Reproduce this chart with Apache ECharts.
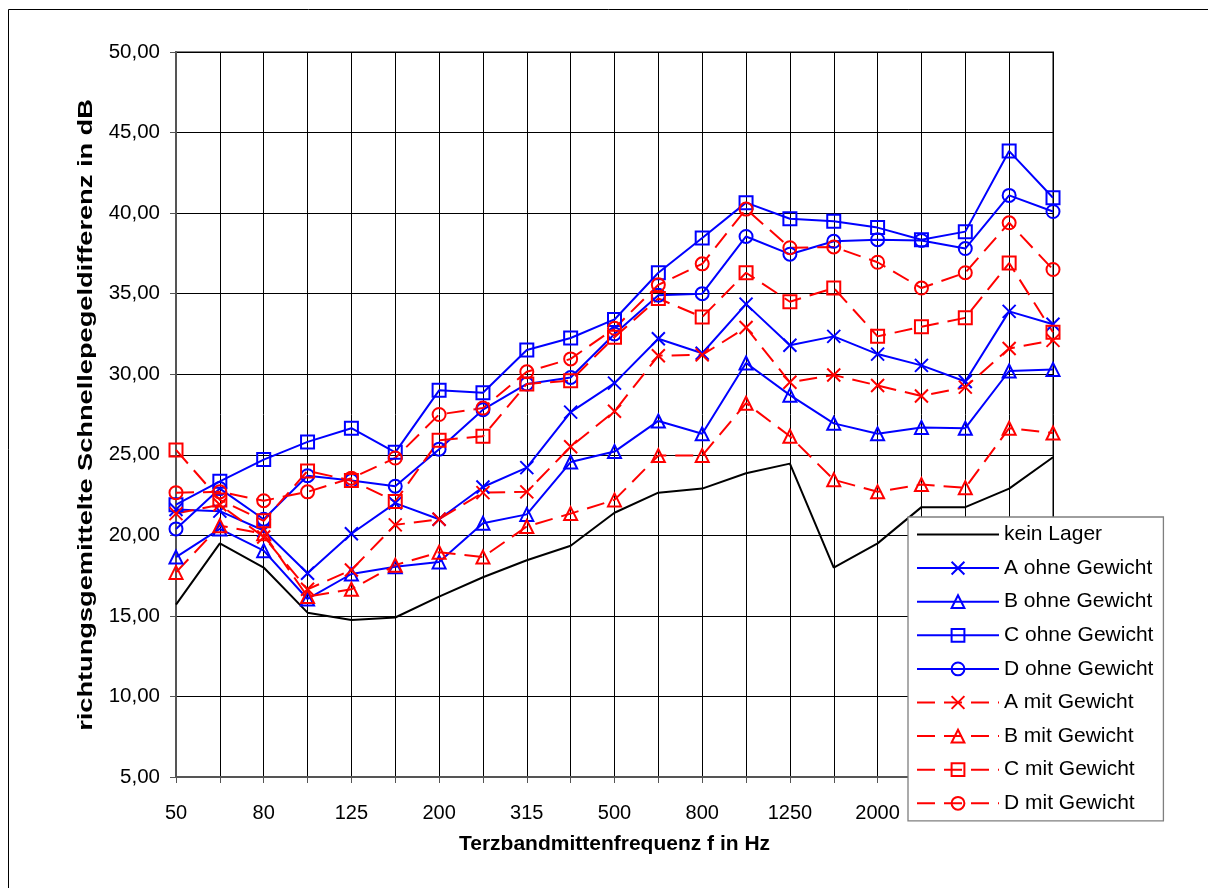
<!DOCTYPE html>
<html>
<head>
<meta charset="utf-8">
<script src="https://cdn.jsdelivr.net/npm/echarts@6/dist/echarts.min.js"></script>
<style>
  html, body { margin: 0; padding: 0; background: #fff; }
  #chart { width: 1208px; height: 888px; }
</style>
</head>
<body>
<div id="chart"></div>
<script>
// Terzband-Mittenfrequenzen in Hz
const frequencies = ['50','63','80','100','125','160','200','250','315','400','500','630','800','1000','1250','1600','2000','2500','3150','4000','5000'];

// Richtungsgemittelte Schnellepegeldifferenz in dB
const keinLager   = [15.7,19.5,18.0,15.2,14.75,14.9,16.2,17.4,18.45,19.35,21.4,22.65,22.9,23.85,24.45,18.0,19.5,21.75,21.75,22.9,24.85];
const aOhne       = [21.6,21.5,20.3,17.65,20.1,22.0,21.0,23.0,24.2,27.65,29.45,32.2,31.3,34.35,31.8,32.35,31.25,30.55,29.55,33.9,33.1];
const bOhne       = [18.65,20.4,19.05,16.05,17.6,18.05,18.35,20.75,21.3,24.55,25.2,27.1,26.3,30.7,28.7,26.95,26.3,26.7,26.65,30.2,30.3];
const cOhne       = [21.9,23.35,24.7,25.8,26.65,25.15,29.0,28.85,31.5,32.25,33.4,36.3,38.45,40.65,39.65,39.5,39.1,38.35,38.85,43.85,40.95];
const dOhne       = [20.4,22.9,21.0,23.7,23.4,23.05,25.35,27.8,29.4,29.8,32.5,34.9,35.0,38.55,37.45,38.25,38.35,38.3,37.8,41.1,40.1];
const aMit        = [21.35,21.9,19.9,16.65,17.85,20.65,21.0,22.65,22.7,25.5,27.7,31.15,31.2,32.9,29.5,29.95,29.3,28.65,29.2,31.6,32.1];
const bMit        = [17.7,20.6,20.1,16.2,16.65,18.15,18.95,18.65,20.55,21.35,22.2,24.95,24.95,28.2,26.15,23.45,22.7,23.15,22.95,26.65,26.35];
const cMit        = [25.3,22.2,20.9,24.0,23.4,22.1,25.9,26.15,29.4,29.6,32.3,34.7,33.55,36.3,34.5,35.35,32.35,32.95,33.5,36.9,32.6];
const dMit        = [22.65,22.7,22.15,22.7,23.55,24.8,27.5,27.9,30.15,30.95,32.85,35.55,36.85,40.25,37.85,37.9,36.95,35.35,36.3,39.4,36.5];

const yTitle = 'richtungsgemittelte Schnellepegeldifferenz in dB';
const xTitle = 'Terzbandmittenfrequenz f in Hz';

const FONT = "'Liberation Sans', Arial, sans-serif";
const BLUE = '#0000ff';
const RED = '#ff0000';
const DASH = [18, 9];
const CROSS = 'path://M0,0L10,10M0,10L10,0';

const markerShapes = { A: CROSS, B: 'triangle', C: 'rect', D: 'circle' };
const markerSizes = { A: 13, B: 13, C: 13, D: 13 };

function measured(name, data, colour, dashed, key) {
  return {
    name: name,
    type: 'line',
    data: data,
    symbol: markerShapes[key],
    symbolSize: markerSizes[key],
    showSymbol: true,
    animation: false,
    lineStyle: { color: colour, width: 2, type: dashed ? DASH : 'solid' },
    itemStyle: { color: 'rgba(0,0,0,0)', borderColor: colour, borderWidth: 2 },
    emphasis: { disabled: true }
  };
}

const series = [
  {
    name: 'kein Lager',
    type: 'line',
    data: keinLager,
    symbol: 'circle',
    showSymbol: false,
    animation: false,
    lineStyle: { color: '#000', width: 2 },
    itemStyle: { color: 'rgba(0,0,0,0)', borderWidth: 0 },
    emphasis: { disabled: true }
  },
  measured('A ohne Gewicht', aOhne, BLUE, false, 'A'),
  measured('B ohne Gewicht', bOhne, BLUE, false, 'B'),
  measured('C ohne Gewicht', cOhne, BLUE, false, 'C'),
  measured('D ohne Gewicht', dOhne, BLUE, false, 'D'),
  measured('A mit Gewicht', aMit, RED, true, 'A'),
  measured('B mit Gewicht', bMit, RED, true, 'B'),
  measured('C mit Gewicht', cMit, RED, true, 'C'),
  measured('D mit Gewicht', dMit, RED, true, 'D')
];

const chart = echarts.init(document.getElementById('chart'), null, { renderer: 'canvas' });
chart.setOption({
  backgroundColor: '#fff',
  animation: false,
  textStyle: { fontFamily: FONT },
  graphic: [
    {
      type: 'rect',
      shape: { x: 8.5, y: 9.5, width: 1220, height: 900 },
      style: { fill: 'none', stroke: '#000', lineWidth: 1 },
      silent: true
    },
    {
      // vertical axis title, stretched along its reading direction
      type: 'text',
      x: 86, y: 415,
      rotation: Math.PI / 2,
      scaleX: 1.36,
      style: {
        text: yTitle,
        fontFamily: FONT, fontSize: 20, fontWeight: 'bold', fill: '#000',
        align: 'center', verticalAlign: 'middle'
      },
      silent: true
    }
  ],
  grid: {
    left: 176, top: 52, right: 155, bottom: 111,
    show: true, borderColor: '#7f7f7f', borderWidth: 2, backgroundColor: 'transparent'
  },
  legend: {
    orient: 'vertical',
    left: 908, top: 517,
    padding: [7, 10, 7, 8],
    itemWidth: 82, itemHeight: 16, itemGap: 12.6,
    backgroundColor: '#fff',
    borderColor: '#7f7f7f', borderWidth: 1.3,
    textStyle: { fontFamily: FONT, fontSize: 21, color: '#000', lineHeight: 20 },
    selectedMode: false,
    data: series.map(s => s.name)
  },
  xAxis: {
    type: 'category',
    data: frequencies,
    boundaryGap: false,
    name: xTitle,
    nameLocation: 'middle',
    nameGap: 57,
    nameTextStyle: { fontFamily: FONT, fontSize: 21, fontWeight: 'bold', color: '#000' },
    axisLine: { lineStyle: { color: '#555', width: 2 } },
    axisTick: { show: true, interval: 0, length: 6, lineStyle: { color: '#555', width: 1 } },
    axisLabel: { interval: 1, margin: 26, fontSize: 20, color: '#000', fontFamily: FONT },
    splitLine: { show: true, interval: 0, lineStyle: { color: '#000', width: 1 } }
  },
  yAxis: {
    type: 'value',
    min: 5, max: 50, interval: 5,
    axisLine: { show: true, lineStyle: { color: '#555', width: 2 } },
    axisTick: { show: true, length: 6, lineStyle: { color: '#555', width: 1 } },
    axisLabel: {
      margin: 16, fontSize: 20.5, color: '#000', fontFamily: FONT,
      formatter: v => v.toFixed(2).replace('.', ',')
    },
    splitLine: { show: true, lineStyle: { color: '#000', width: 1 } }
  },
  series: series
});
</script>
</body>
</html>
